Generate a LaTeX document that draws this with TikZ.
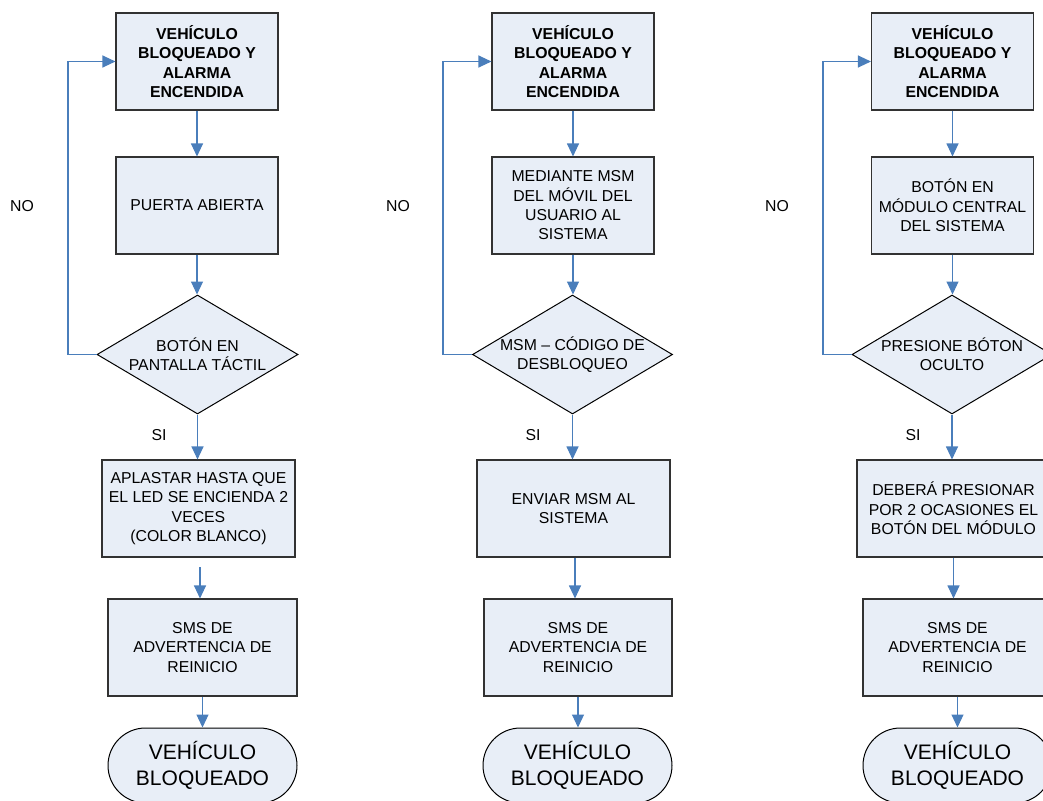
\documentclass[tikz,border=0pt]{standalone}
\usepackage{fontspec}
\setmainfont{Liberation Sans}
\usetikzlibrary{arrows.meta,shapes.geometric,shapes.misc}

\definecolor{boxfill}{RGB}{232,238,247}
\definecolor{boxline}{RGB}{50,50,50}
\definecolor{flow}{RGB}{74,126,187}

\tikzset{
  every node/.style={font=\fontsize{15.8}{19.3}\selectfont},
  procbox/.style={draw=boxline, fill=boxfill, line width=1.1pt, inner sep=0pt,
    align=center, minimum width=#1, minimum height=97pt},
  procbox/.default=162pt,
  headbox/.style={procbox, font=\fontsize{15.8}{19.3}\selectfont\bfseries},
  decision/.style={diamond, draw=black, fill=boxfill, line width=1pt, inner sep=0pt,
    minimum width=200pt, minimum height=119pt,
    label={[align=center, font=\fontsize{15.8}{19.3}\selectfont]center:#1}},
  endstate/.style={rounded rectangle, draw=black, fill=boxfill, line width=1pt,
    inner sep=0pt, align=center, minimum width=189pt, minimum height=75pt,
    font=\fontsize{21}{26}\selectfont},
  flowarrow/.style={draw=flow, line width=1.1pt,
    -{Triangle[length=13pt,width=12pt,fill=flow]}},
  tag/.style={inner sep=0pt}
}

\begin{document}
\begin{tikzpicture}[x=1pt, y=-1pt]
\useasboundingbox (0,0) rectangle (1043,800);
\clip (0,0) rectangle (1043,800);

% ---------- first column: touch screen ----------
\node[headbox] (a1) at (197,61.5) {VEHÍCULO\\BLOQUEADO Y\\ALARMA\\ENCENDIDA};
\node[procbox] (a2) at (197,205.5) {PUERTA ABIERTA};
\node[decision={BOTÓN EN\\PANTALLA TÁCTIL}, minimum width=201pt] (a3) at (197.5,354.5) {};
\node[procbox=193pt] (a4) at (198.5,508.5) {APLASTAR HASTA QUE\\EL LED SE ENCIENDA 2\\VECES\\(COLOR BLANCO)};
\node[procbox=189pt] (a5) at (202.5,647.5) {SMS DE\\ADVERTENCIA DE\\REINICIO};
\node[endstate] (a6) at (202.5,765.5) {VEHÍCULO\\BLOQUEADO};
\node[tag] (ano) at (22,206) {NO};
\node[tag] (asi) at (159,435) {SI};
\coordinate (aloop) at (68,61.5);
\coordinate (afree) at (200,567);

\draw[flowarrow] (a1) -- (a2);
\draw[flowarrow] (a2) -- (a2 |- a3.north);
\draw[flowarrow] (a3.south) -- (a3.south |- a4.north);
\draw[flowarrow] (afree) -- (afree |- a5.north);
\draw[flowarrow] (a5.south) -- (a5.south |- a6.north);
\draw[flowarrow] (a3.west) -| (aloop) -- (a1.west);

% ---------- second column: message from the phone ----------
\node[headbox] (b1) at (573,61.5) {VEHÍCULO\\BLOQUEADO Y\\ALARMA\\ENCENDIDA};
\node[procbox] (b2) at (573,205.5) {MEDIANTE MSM\\DEL MÓVIL DEL\\USUARIO AL\\SISTEMA};
\node[decision={MSM – CÓDIGO DE\\DESBLOQUEO}] (b3) at (572.5,354.5) {};
\node[procbox=193pt] (b4) at (573.5,508.5) {ENVIAR MSM AL\\SISTEMA};
\node[procbox=188pt] (b5) at (578,647.5) {SMS DE\\ADVERTENCIA DE\\REINICIO};
\node[endstate] (b6) at (577.5,765.5) {VEHÍCULO\\BLOQUEADO};
\node[tag] (bno) at (398,206) {NO};
\node[tag] (bsi) at (533,435) {SI};
\coordinate (bloop) at (443,61.5);

\draw[flowarrow] (b1) -- (b2);
\draw[flowarrow] (b2) -- (b2 |- b3.north);
\draw[flowarrow] (b3.south) -- (b3.south |- b4.north);
\draw[flowarrow] ([xshift=1.5pt]b4.south) -- ([xshift=1.5pt]b4.south |- b5.north);
\draw[flowarrow] (b5.south) -- (b5.south |- b6.north);
\draw[flowarrow] (b3.west) -| (bloop) -- (b1.west);

% ---------- third column: hidden button ----------
\node[headbox] (c1) at (952.5,61.5) {VEHÍCULO\\BLOQUEADO Y\\ALARMA\\ENCENDIDA};
\node[procbox] (c2) at (952.5,205.5) {BOTÓN EN\\MÓDULO CENTRAL\\DEL SISTEMA};
\node[decision={PRESIONE BÓTON\\OCULTO}] (c3) at (952,354.5) {};
\node[procbox=193pt] (c4) at (953.5,508.5) {DEBERÁ PRESIONAR\\POR 2 OCASIONES EL\\BOTÓN DEL MÓDULO};
\node[procbox=189pt] (c5) at (957.5,647.5) {SMS DE\\ADVERTENCIA DE\\REINICIO};
\node[endstate] (c6) at (957.5,765.5) {VEHÍCULO\\BLOQUEADO};
\node[tag] (cno) at (777,206) {NO};
\node[tag] (csi) at (913,435) {SI};
\coordinate (cloop) at (823,61.5);

\draw[flowarrow] (c1) -- (c2);
\draw[flowarrow] (c2) -- (c2 |- c3.north);
\draw[flowarrow] (c3.south) -- (c3.south |- c4.north);
\draw[flowarrow] (c4.south) -- (c4.south |- c5.north);
\draw[flowarrow] (c5.south) -- (c5.south |- c6.north);
\draw[flowarrow] (c3.west) -| (cloop) -- (c1.west);
\end{tikzpicture}
\end{document}
